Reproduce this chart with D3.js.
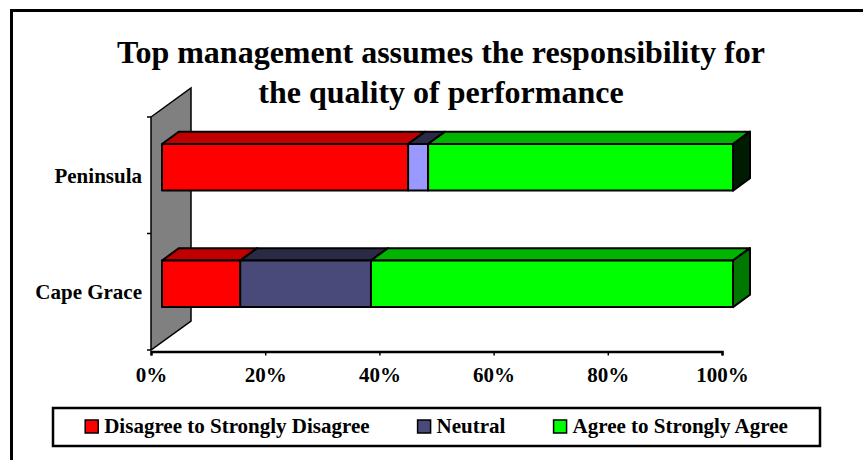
<!DOCTYPE html>
<html>
<head>
<meta charset="utf-8">
<script src="https://cdn.jsdelivr.net/npm/d3@7"></script>
<style>
  body { margin: 0; background: #fff; }
</style>
</head>
<body>
<div id="chart"></div>
<script>
const width = 863;
const height = 460;
const fontFamily = 'Liberation Serif, Times New Roman, serif';

// Data
const categories = ['Peninsula', 'Cape Grace'];
const seriesNames = ['Disagree to Strongly Disagree', 'Neutral', 'Agree to Strongly Agree'];
const disagree = [43.1, 13.7];
const neutral = [3.5, 22.9];
const agree = [53.4, 63.4];
const xTicks = [0, 20, 40, 60, 80, 100];
const titleLines = ['Top management assumes the responsibility for', 'the quality of performance'];

// Colours: front face, top face, and the end cap of each bar
const frontColors = ['#ff0000', '#4a4a7a', '#00ff00'];
const topColors = ['#c00000', '#2a2a44', '#00b400'];
const pointFront = { 'Peninsula|1': '#9999ff' }; // single point recoloured in the original
const sideColors = { 'Peninsula': '#001c00', 'Cape Grace': '#007800' };

// 3D depth offsets
const depthX = 40, depthY = 29;
const barZ0 = 0.275, barZ1 = 0.7;

const svg = d3.select('#chart')
  .append('svg')
  .attr('width', width)
  .attr('height', height)
  .attr('font-family', fontFamily)
  .attr('font-weight', 'bold');

// outer frame, runs off the right and bottom edges like the original
svg.append('rect')
  .attr('x', 11.5).attr('y', 10.5)
  .attr('width', 900).attr('height', 500)
  .attr('fill', 'none')
  .attr('stroke', '#000')
  .attr('stroke-width', 3);

// Title
svg.append('g').selectAll('text')
  .data(titleLines)
  .enter()
  .append('text')
  .attr('x', 441)
  .attr('y', (d, i) => 63 + i * 40)
  .attr('text-anchor', 'middle')
  .attr('font-size', 32)
  .text(d => d);

const x = d3.scaleLinear().domain([0, 100]).range([151, 722]);
const y = d3.scaleBand().domain(categories).range([117, 350]);
const bw = y.bandwidth();

// project a point (value, screen y on the front plane, depth 0..1)
function p(v, yy, z) {
  return [x(v) + z * depthX, yy - z * depthY];
}
function poly(pts) {
  return 'M' + pts.map(q => q.join(',')).join('L') + 'Z';
}

// back wall
const [yTop, yBot] = y.range();
svg.append('path')
  .attr('d', poly([p(0, yTop, 0), p(0, yTop, 1), p(0, yBot, 1), p(0, yBot, 0)]))
  .attr('fill', '#808080')
  .attr('stroke', '#000')
  .attr('stroke-width', 1.5);

// category ticks on the left of the wall
const yTickPos = [yTop, yTop + y.step(), yBot];
svg.selectAll('.ytick')
  .data(yTickPos)
  .enter()
  .append('line')
  .attr('x1', x(0) - 4).attr('x2', x(0))
  .attr('y1', d => d).attr('y2', d => d)
  .attr('stroke', '#000')
  .attr('stroke-width', 1.5);

svg.selectAll('.cat')
  .data(categories)
  .enter()
  .append('text')
  .attr('x', x(0) - 9)
  .attr('y', d => y(d) + bw / 2 + 7.5)
  .attr('text-anchor', 'end')
  .attr('font-size', 21)
  .text(d => d);

// x axis
const xAxis = svg.append('g')
  .attr('transform', `translate(0,${yBot + 1.5})`)
  .call(d3.axisBottom(x)
    .tickValues(xTicks)
    .tickSize(4)
    .tickSizeOuter(4)
    .tickPadding(12)
    .tickFormat(d => d + '%'));
xAxis.attr('font-family', fontFamily).attr('font-size', 21);
xAxis.select('.domain').attr('stroke', '#000').attr('stroke-width', 2.5);
xAxis.selectAll('.tick line').attr('stroke', '#000').attr('stroke-width', 1.5);
xAxis.selectAll('.tick text').attr('fill', '#000');

// stacked 3D bars
const rows = categories.map((c, i) => ({ cat: c, 0: disagree[i], 1: neutral[i], 2: agree[i] }));
const stack = d3.stack().keys([0, 1, 2])(rows);

categories.forEach((cat, ci) => {
  const g = svg.append('g').attr('class', 'bar');
  const yt = y(cat) + bw * 0.3;
  const yb = y(cat) + bw * 0.7;
  stack.forEach((layer, si) => {
    const [v0, v1] = layer[ci];
    g.append('path')
      .attr('d', poly([p(v0, yt, barZ0), p(v1, yt, barZ0), p(v1, yt, barZ1), p(v0, yt, barZ1)]))
      .attr('fill', topColors[si])
      .attr('stroke', '#000')
      .attr('stroke-width', 2)
      .attr('stroke-linejoin', 'round');
    g.append('path')
      .attr('d', poly([p(v0, yt, barZ0), p(v1, yt, barZ0), p(v1, yb, barZ0), p(v0, yb, barZ0)]))
      .attr('fill', pointFront[cat + '|' + si] || frontColors[si])
      .attr('stroke', '#000')
      .attr('stroke-width', 2)
      .attr('stroke-linejoin', 'round');
    if (si === stack.length - 1) {
      g.append('path')
        .attr('d', poly([p(v1, yt, barZ0), p(v1, yt, barZ1), p(v1, yb, barZ1), p(v1, yb, barZ0)]))
        .attr('fill', sideColors[cat])
        .attr('stroke', '#000')
        .attr('stroke-width', 2)
        .attr('stroke-linejoin', 'round');
    }
  });
});

// Legend
const legendBox = { x: 53, y: 408, w: 767, h: 38 };
svg.append('rect')
  .attr('x', legendBox.x).attr('y', legendBox.y)
  .attr('width', legendBox.w).attr('height', legendBox.h)
  .attr('fill', '#fff')
  .attr('stroke', '#000')
  .attr('stroke-width', 2.5);

const legend = svg.append('g');
const items = legend.selectAll('g')
  .data(seriesNames)
  .enter()
  .append('g');
items.append('rect')
  .attr('width', 13).attr('height', 13)
  .attr('y', -13)
  .attr('fill', (d, i) => frontColors[i])
  .attr('stroke', '#000')
  .attr('stroke-width', 1.5);
items.append('text')
  .attr('x', 19)
  .attr('font-size', 21)
  .text(d => d);

// lay out legend items side by side, centred in the box
const gap = 48;
const widths = [];
items.each(function () { widths.push(this.getBBox().width); });
const total = d3.sum(widths) + gap * (widths.length - 1);
let cx = legendBox.x + (legendBox.w - total) / 2;
items.attr('transform', (d, i) => {
  const t = `translate(${cx},${legendBox.y + 25})`;
  cx += widths[i] + gap;
  return t;
});
</script>
</body>
</html>
